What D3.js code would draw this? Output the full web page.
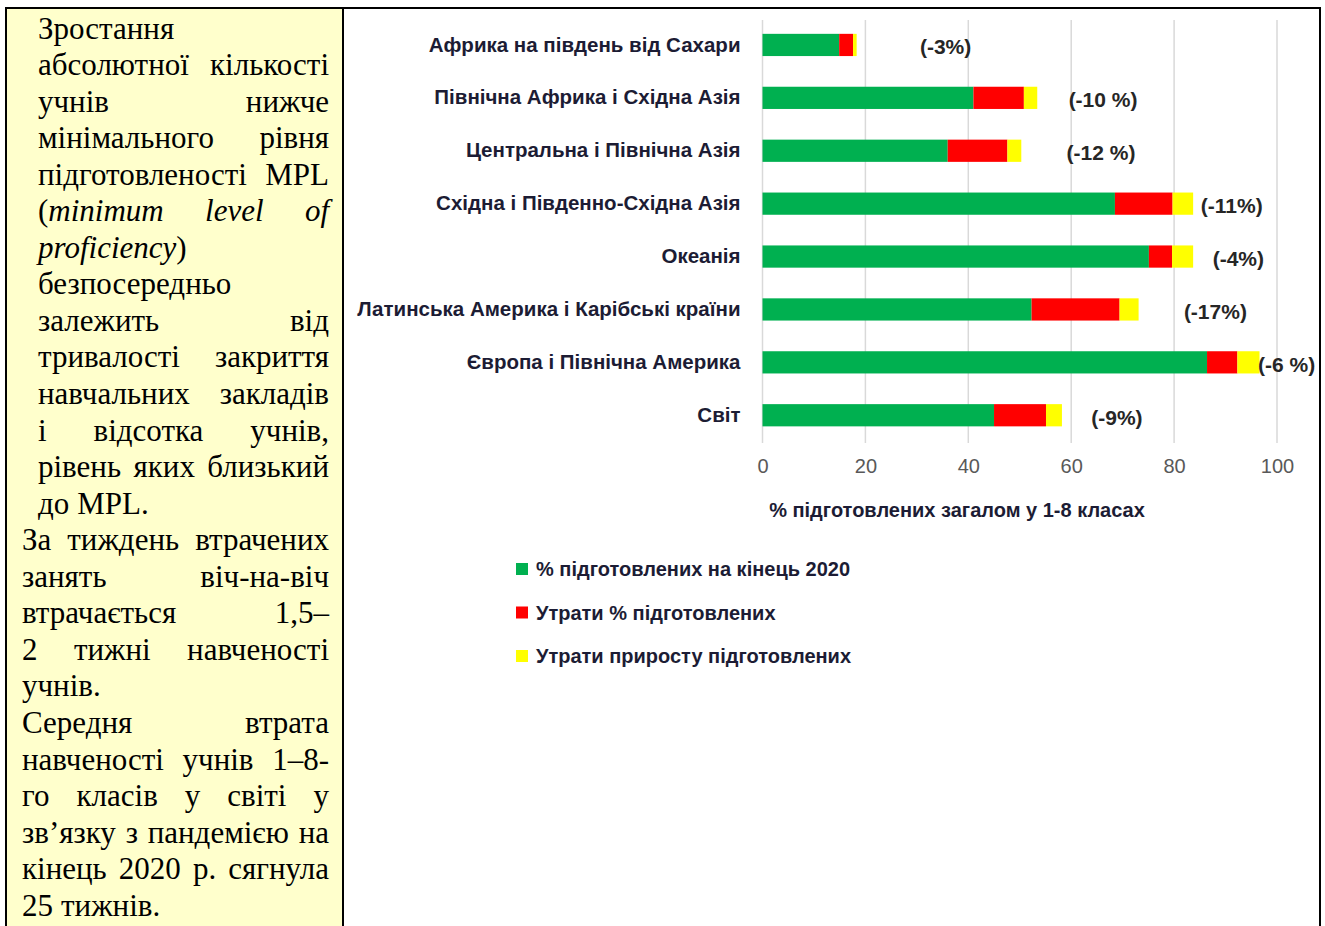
<!DOCTYPE html>
<html>
<head>
<meta charset="utf-8">
<script src="https://cdn.jsdelivr.net/npm/d3@7"></script>
<style>
  body { margin: 0; background: #fff; }
</style>
</head>
<body>
<div id="chart"></div>
<script>
// regions (top to bottom)
const categories = [
    "Африка на південь від Сахари",
    "Північна Африка і Східна Азія",
    "Центральна і Північна Азія",
    "Східна і Південно-Східна Азія",
    "Океанія",
    "Латинська Америка і Карібські країни",
    "Європа і Північна Америка",
    "Світ"
]

// % proficient at end of 2020, losses
const proficient = [14.9, 41.0, 36.0, 68.5, 75.1, 52.3, 86.4, 45.0]
const lossProficient = [2.7, 9.8, 11.6, 11.2, 4.5, 17.1, 5.9, 10.1]
const lossGrowth = [0.7, 2.6, 2.7, 4.0, 4.1, 3.7, 4.3, 3.1]

// loss annotations and where they sit on the value axis
const lossLabels = ["(-3%)", "(-10 %)", "(-12 %)", "(-11%)", "(-4%)", "(-17%)", "(-6 %)", "(-9%)"]
const lossLabelAt = [30.6, 59.5, 59.1, 85.2, 87.5, 81.9, 96.3, 63.9]

const xTicks = [0, 20, 40, 60, 80, 100]
const seriesKeys = ["green", "red", "yellow"]
const seriesNames = ["% підготовлених на кінець 2020", "Утрати % підготовлених", "Утрати приросту підготовлених"]
const seriesColors = ["#00B050", "#FF0000", "#FFFF00"]
const xTitle = "% підготовлених загалом у 1-8 класах"

// side note text, line by line as in the original (_..._ = italic)
const paragraphs = [
    ["Зростання", "абсолютної кількості", "учнів нижче", "мінімального рівня",
     "підготовленості MPL", "(_minimum_ _level_ _of_", "_proficiency_)", "безпосередньо",
     "залежить від", "тривалості закриття", "навчальних закладів", "і відсотка учнів,",
     "рівень яких близький", "до MPL."],
    ["За тиждень втрачених", "занять віч-на-віч", "втрачається 1,5–", "2 тижні навченості", "учнів."],
    ["Середня втрата", "навченості учнів 1–8-", "го класів у світі у", "зв’язку з пандемією на",
     "кінець 2020 р. сягнула", "25 тижнів."]
]
const paraIndent = [38, 22, 22]

const W = 1325, H = 926
const sans = "'Liberation Sans', Arial, sans-serif"
const ink = "#1c1c34"

const svg = d3.select("#chart").append("svg")
    .attr("width", W)
    .attr("height", H)

// ---- table frame + yellow side panel ----
svg.append("rect")
    .attr("x", 6).attr("y", 8).attr("width", 337).attr("height", H)
    .attr("fill", "#FFFFCC")

const frame = svg.append("g").attr("stroke", "#000").attr("stroke-width", 2)
frame.append("line").attr("x1", 5).attr("x2", 1321).attr("y1", 8).attr("y2", 8)
frame.append("line").attr("x1", 6).attr("x2", 6).attr("y1", 7).attr("y2", H)
frame.append("line").attr("x1", 343).attr("x2", 343).attr("y1", 7).attr("y2", H)
frame.append("line").attr("x1", 1320).attr("x2", 1320).attr("y1", 7).attr("y2", H)

// justified text lines
const panel = svg.append("g")
    .style("font-family", "'Liberation Serif', 'Times New Roman', serif")
    .style("font-size", "31px")
    .attr("fill", "#000")

let lineNo = 0
const lineH = 36.55, firstBase = 38.5, rightEdge = 329
paragraphs.forEach((lines, pi) => {
    lines.forEach((line, li) => {
        const yy = firstBase + lineNo * lineH
        const words = line.split(" ")
        const nodes = words.map(w => {
            const t = panel.append("text").attr("y", yy)
            w.split("_").forEach((seg, si) => {
                if (seg === "") return
                t.append("tspan").text(seg).style("font-style", si % 2 ? "italic" : "normal")
            })
            return t
        })
        const widths = nodes.map(n => n.node().getComputedTextLength())
        const total = d3.sum(widths)
        const isLast = li === lines.length - 1
        let gap = 8
        if (!isLast && words.length > 1) {
            gap = (rightEdge - paraIndent[pi] - total) / (words.length - 1)
        }
        let cx = paraIndent[pi]
        nodes.forEach((n, i) => {
            n.attr("x", cx)
            cx += widths[i] + gap
        })
        lineNo++
    })
})

// ---- bar chart ----
const x = d3.scaleLinear().domain([0, 100]).range([762.5, 1277])
const y = d3.scaleBand()
    .domain(categories)
    .range([18.5, 441.7])
    .paddingInner(0.58)
    .paddingOuter(0.29)

const rows = categories.map((c, i) => ({
    cat: c, green: proficient[i], red: lossProficient[i], yellow: lossGrowth[i]
}))
const stacked = d3.stack().keys(seriesKeys)(rows)
const color = d3.scaleOrdinal().domain(seriesKeys).range(seriesColors)

// gridlines
svg.append("g").selectAll("line")
    .data(xTicks)
    .enter().append("line")
    .attr("x1", d => x(d)).attr("x2", d => x(d))
    .attr("y1", 20).attr("y2", 443)
    .attr("stroke", "#d9d9d9")
    .attr("stroke-width", 1.5)

// bars
svg.append("g").selectAll("g")
    .data(stacked)
    .enter().append("g")
    .attr("fill", d => color(d.key))
    .selectAll("rect")
    .data(d => d)
    .enter().append("rect")
    .attr("x", d => x(d[0]))
    .attr("y", d => y(d.data.cat))
    .attr("width", d => x(d[1]) - x(d[0]))
    .attr("height", y.bandwidth())

// loss labels
svg.append("g").selectAll("text")
    .data(categories)
    .enter().append("text")
    .attr("x", (d, i) => x(lossLabelAt[i]))
    .attr("y", d => y(d) + y.bandwidth() / 2 + 2)
    .attr("dy", "0.35em")
    .style("font-family", sans)
    .style("font-weight", "bold")
    .style("font-size", "21px")
    .attr("fill", "#262626")
    .text((d, i) => lossLabels[i])

// y axis (category names)
const yAxis = svg.append("g")
    .attr("transform", "translate(" + x(0) + ",0)")
    .call(d3.axisLeft(y).tickSize(0).tickPadding(22))
yAxis.select(".domain").remove()
yAxis.selectAll("text")
    .style("font-family", sans)
    .style("font-weight", "bold")
    .style("font-size", "20.5px")
    .attr("fill", ink)

// x axis
const xAxis = svg.append("g")
    .attr("transform", "translate(0,459)")
    .call(d3.axisBottom(x).tickValues(xTicks).tickSize(0).tickPadding(0))
xAxis.select(".domain").remove()
xAxis.selectAll("text")
    .style("font-family", sans)
    .style("font-size", "20px")
    .attr("fill", "#595959")

svg.append("text")
    .attr("x", 957)
    .attr("y", 517)
    .attr("text-anchor", "middle")
    .style("font-family", sans)
    .style("font-weight", "bold")
    .style("font-size", "20px")
    .attr("fill", ink)
    .text(xTitle)

// legend
const legend = svg.append("g").selectAll("g")
    .data(seriesKeys)
    .enter().append("g")
    .attr("transform", (d, i) => "translate(516," + (563 + i * 43.5) + ")")
legend.append("rect")
    .attr("width", 12).attr("height", 12)
    .attr("fill", d => color(d))
legend.append("text")
    .attr("x", 20)
    .attr("y", 6)
    .attr("dy", "0.35em")
    .style("font-family", sans)
    .style("font-weight", "bold")
    .style("font-size", "20px")
    .attr("fill", ink)
    .text((d, i) => seriesNames[i])
</script>
</body>
</html>
